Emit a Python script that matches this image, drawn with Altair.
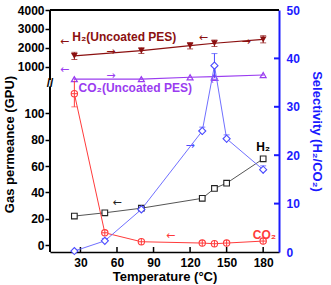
import altair as alt
import pandas as pd

# ---------------- data ----------------
temps = [25, 50, 80, 130, 140, 150, 180]
h2_coated = [22, 24.5, 28, 35.5, 43, 47, 65.5]
co2_coated = [115, 9.3, 2.5, 1.5, 1.0, 1.5, 3.0]
co2_err = [10, 1.0, 0.6, 0.4, 0.4, 0.4, 0.6]
selectivity = [0.2, 2.3, 8.8, 25.0, 38.5, 23.4, 17.0]
sel_err = [0, 0.5, 0.5, 0.8, 2.5, 0.8, 0.8]

temps_uncoated = [25, 80, 120, 140, 180]
h2_uncoated = [1570, 1850, 2110, 2240, 2450]
h2_unc_err = [190, 150, 170, 170, 190]
co2_uncoated = [340, 340, 440, 470, 560]
co2_unc_err = [40, 30, 40, 60, 40]

x_ticks = [30, 60, 90, 120, 150, 180]
lower_ticks = [0, 20, 40, 60, 80, 100]
upper_ticks = [1000, 2000, 3000, 4000]
right_ticks = [0, 10, 20, 30, 40, 50]

# ---------------- broken-axis geometry ----------------
W, H = 229, 242
X_DOM = [5, 193]
U_TOP = 178.6          # display units at the top of the plot (= 4000 GPU)
U_BOT = -5.3
K = 0.01436            # display units per GPU in the upper segment
BREAK_LO, BREAK_HI = 120.5, 125.5


def up(v):
    return U_TOP - (4000 - v) * K


FONT = "Liberation Sans"

x_enc = alt.X("T:Q", scale=alt.Scale(domain=X_DOM, nice=False, zero=False),
              axis=alt.Axis(values=x_ticks, title="Temperature (°C)", format="d",
                            labelFontSize=12, labelFontWeight="bold", titleFontSize=13,
                            titleFontWeight="bold", ticks=False, labelPadding=5,
                            titlePadding=2, domainColor="black", domainWidth=1.5,
                            labelColor="black", titleColor="black",
                            grid=False, labelFlush=False))

left_axis = alt.Axis(
    values=lower_ticks + [round(up(v), 4) for v in upper_ticks],
    labelExpr=f"datum.value > {BREAK_HI} ? format(round((4000 - ({U_TOP} - datum.value)/{K})/1000)*1000, 'd') : format(datum.value, 'd')",
    title="Gas permeance (GPU)", labelFontSize=12, labelFontWeight="bold",
    titleFontSize=13, titleFontWeight="bold", tickSize=5, labelPadding=1,
    titlePadding=1, titleY=134, domain=False, tickColor="black", tickWidth=1.5,
    labelColor="black", titleColor="black", grid=False)
left_scale = alt.Scale(domain=[U_BOT, U_TOP], nice=False, zero=False)


def YL(field):
    return alt.Y(f"{field}:Q", scale=left_scale, axis=left_axis, title="Gas permeance (GPU)")


right_axis = alt.Axis(values=right_ticks, title="Selectivity (H₂/CO₂)", orient="right",
                      labelFontSize=12, labelFontWeight="bold", titleFontSize=13,
                      titleFontWeight="bold", ticks=False, labelPadding=7, titlePadding=10,
                      domainColor="#1a1aff", domainWidth=2,
                      labelColor="#1a1aff", titleColor="#1a1aff", grid=False)
right_scale = alt.Scale(domain=[0, 50], nice=False, zero=False)


def YR(field):
    return alt.Y(f"{field}:Q", scale=right_scale, axis=right_axis, title="Selectivity (H₂/CO₂)")


# ---------------- tables ----------------
coated = pd.DataFrame({"T": temps, "h2": h2_coated, "co2": co2_coated,
                       "co2_lo": [a - b for a, b in zip(co2_coated, co2_err)],
                       "co2_hi": [a + b for a, b in zip(co2_coated, co2_err)],
                       "sel": selectivity,
                       "sel_lo": [a - b for a, b in zip(selectivity, sel_err)],
                       "sel_hi": [a + b for a, b in zip(selectivity, sel_err)]})
uncoated = pd.DataFrame({"T": temps_uncoated, "h2": h2_uncoated, "h2e": h2_unc_err,
                         "co2": co2_uncoated, "co2e": co2_unc_err})

unc = alt.Chart(uncoated).transform_calculate(
    h2u=f"{U_TOP} - (4000 - datum.h2) * {K}",
    h2lo=f"{U_TOP} - (4000 - datum.h2 + datum.h2e) * {K}",
    h2hi=f"{U_TOP} - (4000 - datum.h2 - datum.h2e) * {K}",
    co2u=f"{U_TOP} - (4000 - datum.co2) * {K}",
    co2lo=f"{U_TOP} - (4000 - datum.co2 + datum.co2e) * {K}",
    co2hi=f"{U_TOP} - (4000 - datum.co2 - datum.co2e) * {K}",
)
cb = alt.Chart(coated)

DRED = "#8b1010"
PURP = "#9a3cf0"
RED = "#ff3b3b"
BLUE = "#4b4bff"
BLK = "#222222"

layers = []
# H2 uncoated (upper)
layers.append(unc.mark_line(color=DRED, strokeWidth=1.2).encode(x=x_enc, y=YL("h2u")))
layers.append(unc.mark_rule(color=DRED, strokeWidth=1).encode(x=x_enc, y=YL("h2lo"), y2="h2hi:Q"))
layers.append(unc.mark_tick(color=DRED, orient="horizontal", size=6, thickness=1).encode(x=x_enc, y=YL("h2lo")))
layers.append(unc.mark_tick(color=DRED, orient="horizontal", size=6, thickness=1).encode(x=x_enc, y=YL("h2hi")))
layers.append(unc.mark_point(shape="triangle-down", filled=True, color=DRED, size=45, opacity=1).encode(x=x_enc, y=YL("h2u")))
# CO2 uncoated (upper)
layers.append(unc.mark_line(color=PURP, strokeWidth=1.2).encode(x=x_enc, y=YL("co2u")))
layers.append(unc.mark_rule(color=PURP, strokeWidth=1).encode(x=x_enc, y=YL("co2lo"), y2="co2hi:Q"))
layers.append(unc.mark_point(shape="triangle-up", filled=False, color=PURP, size=35, strokeWidth=1.2, opacity=1).encode(x=x_enc, y=YL("co2u")))
# H2 coated (lower)
layers.append(cb.mark_line(color="#555555", strokeWidth=1).encode(x=x_enc, y=YL("h2")))
layers.append(cb.mark_point(shape="square", filled=True, fill="white", stroke=BLK, size=32, strokeWidth=1.1, opacity=1).encode(x=x_enc, y=YL("h2")))
# CO2 coated (lower)
layers.append(cb.mark_line(color=RED, strokeWidth=1).encode(x=x_enc, y=YL("co2")))
layers.append(cb.mark_rule(color=RED, strokeWidth=1).encode(x=x_enc, y=YL("co2_lo"), y2="co2_hi:Q"))
layers.append(cb.mark_tick(color=RED, orient="horizontal", size=6, thickness=1).encode(x=x_enc, y=YL("co2_lo")))
layers.append(cb.mark_point(shape="circle", filled=True, fill="white", stroke=RED, size=40, strokeWidth=1.1, opacity=1).encode(x=x_enc, y=YL("co2")))
layers.append(cb.mark_point(shape="M-1,0H1M0,-1V1", filled=False, color=RED, size=40, strokeWidth=1, opacity=1).encode(x=x_enc, y=YL("co2")))

# annotations (left scale, display units)
ann = pd.DataFrame({
    "T": [66, 75, 180, 181],
    "u": [158, 119.5, 74.5, 7.5],
    "txt": ["H₂(Uncoated PES)", "CO₂(Uncoated PES)", "H₂", "CO₂"],
    "col": [DRED, PURP, "black", RED],
})
layers.append(alt.Chart(ann).mark_text(font=FONT, fontWeight="bold", fontSize=12).encode(
    x=x_enc, y=YL("u"), text="txt:N", color=alt.Color("col:N", scale=None)))

arrows = pd.DataFrame({
    "T": [17, 55, 131, 166, 17, 55, 140, 60, 104, 120],
    "u": [154, 146.5, 157, 154, 133, 128.5, 124.5, 32, 7, 75],
    "txt": ["←", "→", "←", "→", "←", "→", "←", "←", "←", "→"],
    "col": [DRED, DRED, DRED, DRED, PURP, PURP, PURP, BLK, RED, BLUE],
})
layers.append(alt.Chart(arrows).mark_text(font="DejaVu Sans", fontSize=11).encode(
    x=x_enc, y=YL("u"), text="txt:N", color=alt.Color("col:N", scale=None)))

# inward x ticks
xt = pd.DataFrame({"T": x_ticks})
layers.append(alt.Chart(xt).mark_rule(color="black", strokeWidth=1.5).encode(
    x=x_enc, y=alt.value(H), y2=alt.value(H - 5)))

# broken left axis line, break marks and top frame
seg = pd.DataFrame({"T": [X_DOM[0], X_DOM[0]], "a": [U_BOT, BREAK_HI], "b": [BREAK_LO, U_TOP]})
layers.append(alt.Chart(seg).mark_rule(color="black", strokeWidth=2).encode(x=x_enc, y=YL("a"), y2="b:Q"))
brk = pd.DataFrame({"T": [X_DOM[0]], "u": [(BREAK_LO + BREAK_HI) / 2], "txt": ["//"]})
layers.append(alt.Chart(brk).mark_text(font=FONT, fontWeight="bold", fontSize=12, color="black").encode(
    x=x_enc, y=YL("u"), text="txt:N"))
top = pd.DataFrame({"T": [X_DOM[0]], "T2": [X_DOM[1]], "u": [U_TOP]})
layers.append(alt.Chart(top).mark_rule(color="black", strokeWidth=2).encode(x=x_enc, x2="T2:Q", y=YL("u")))

left_layer = alt.layer(*layers)

# selectivity (right scale)
rt = pd.DataFrame({"s": right_ticks[1:-1]})
sel_layer = alt.layer(
    cb.mark_line(color="#7070ff", strokeWidth=1).encode(x=x_enc, y=YR("sel")),
    cb.mark_rule(color=BLUE, strokeWidth=1).encode(x=x_enc, y=YR("sel_lo"), y2="sel_hi:Q"),
    cb.mark_tick(color=BLUE, orient="horizontal", size=6, thickness=1).encode(x=x_enc, y=YR("sel_hi")),
    cb.mark_point(shape="diamond", filled=True, fill="white", stroke=BLUE, size=50, strokeWidth=1.1, opacity=1).encode(x=x_enc, y=YR("sel")),
    alt.Chart(rt).mark_rule(color="#1a1aff", strokeWidth=2).encode(
        y=YR("s"), x=alt.value(W), x2=alt.value(W - 5)),
)

chart = alt.layer(left_layer, sel_layer).resolve_scale(y="independent").properties(
    width=W, height=H,
    autosize=alt.AutoSizeParams(type="none"),
    padding={"left": 50, "top": 10, "right": 52, "bottom": 33},
).configure_view(stroke=None).configure(font=FONT).configure_axis(labelFont=FONT, titleFont=FONT)

chart.save("out.html", embed_options={"renderer": "svg", "actions": False})
